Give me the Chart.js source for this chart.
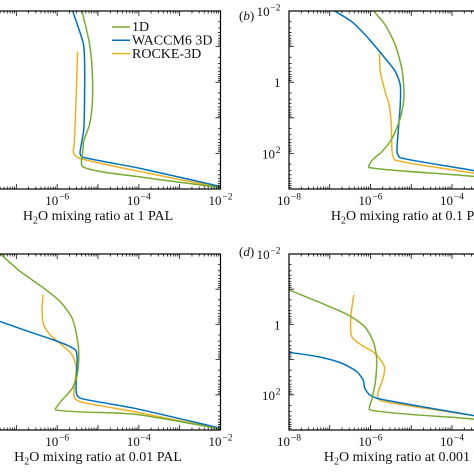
<!DOCTYPE html>
<html><head><meta charset="utf-8">
<script src="https://cdn.jsdelivr.net/npm/chart.js@4/dist/chart.umd.min.js"></script>
<style>
html,body{margin:0;padding:0;background:#fff;}
body{width:474px;height:474px;overflow:hidden;position:relative;}
canvas{position:absolute;}
</style></head><body>
<canvas id="ca" width="297" height="237" style="left:-60px;top:0px"></canvas>
<canvas id="cb" width="320" height="237" style="left:237px;top:0px"></canvas>
<canvas id="cc" width="297" height="237" style="left:-60px;top:237px"></canvas>
<canvas id="cd" width="320" height="237" style="left:237px;top:237px"></canvas>
<script>
// ---------- labels ----------
const seriesNames = ['1D', 'WACCM6 3D', 'ROCKE-3D'];
const seriesColors = ['#77AC30', '#0072BD', '#EDB120'];
const panelPAL = ['1', '0.1', '0.01', '0.001'];
const panelLetters = ['(a)', '(b)', '(c)', '(d)'];
const xTickExps = ['−8', '−6', '−4', '−2'];
const xTickVals = [1e-8, 1e-6, 1e-4, 1e-2];
const yTickVals = [0.01, 1, 100];
const yTickBase = ['10', '1', '10'];
const yTickExp = ['−2', '', '2'];

// ---------- panel (a): 1 PAL ----------
const pA_1D = [0.01, 0.0813, 0.5, 3.98, 15.8, 41.7, 79.4, 240, 457, 912];
const xA_1D = [4.07e-6, 6.17e-6, 7.24e-6, 7.24e-6, 6.17e-6, 4.57e-6, 4.27e-6, 4.27e-6, 1.07e-4, 1e-2];
const pA_WACCM = [0.01, 0.0813, 0.24, 3.16, 21.9, 97.7, 126, 263, 851];
const xA_WACCM = [2.4e-6, 4.37e-6, 4.68e-6, 4.68e-6, 4.47e-6, 3.63e-6, 4.07e-6, 1.07e-4, 1e-2];
const pA_ROCKE = [0.138, 2.0, 51.3, 97.7, 138, 324, 912];
const xA_ROCKE = [3.16e-6, 2.95e-6, 2.63e-6, 2.51e-6, 3.55e-6, 1.07e-4, 1e-2];

// ---------- panel (b): 0.1 PAL ----------
const pB_1D = [0.01, 0.0245, 0.0912, 0.5, 2.82, 10.2, 38, 89, 155, 251, 447, 851];
const xB_1D = [1.2e-6, 2.29e-6, 4.07e-6, 6.03e-6, 6.61e-6, 5.37e-6, 3.39e-6, 1.91e-6, 1.1e-6, 9.33e-7, 3.63e-4, 1e-2];
const pB_WACCM = [0.01, 0.02, 0.059, 0.214, 0.5, 1.2, 4.4, 24.5, 89, 132, 309, 759];
const xB_WACCM = [1.32e-7, 3.47e-7, 8.91e-7, 2.29e-6, 4.07e-6, 5.37e-6, 5.37e-6, 4.79e-6, 4.47e-6, 5.37e-6, 3.63e-4, 1e-2];
const pB_ROCKE = [0.155, 0.5, 1.86, 4.4, 15.8, 89, 155, 363, 851];
const xB_ROCKE = [1.66e-6, 1.74e-6, 2.29e-6, 2.88e-6, 3.24e-6, 3.39e-6, 4.07e-6, 3.63e-4, 1e-2];

// ---------- panel (c): 0.01 PAL ----------
const pC_1D = [0.01, 0.0316, 0.0933, 0.229, 0.676, 2.45, 7.41, 27.5, 66, 141, 269, 355, 933];
const xC_1D = [4.07e-8, 1.26e-7, 4.68e-7, 1.2e-6, 2.34e-6, 3.09e-6, 3.39e-6, 3.09e-6, 2.34e-6, 1.32e-6, 9.33e-7, 7.59e-5, 1e-2];
const pC_WACCM = [0.468, 0.832, 1.78, 2.75, 3.89, 5.37, 9.12, 33.9, 91.2, 126, 240, 891];
const xC_WACCM = [1e-8, 4.07e-8, 2.63e-7, 8.13e-7, 1.74e-6, 2.82e-6, 3.09e-6, 2.95e-6, 2.95e-6, 3.72e-6, 7.59e-5, 1e-2];
const pC_ROCKE = [0.145, 0.437, 1.05, 2.0, 3.89, 7.41, 17.8, 52.5, 120, 158, 302, 933];
const xC_ROCKE = [4.47e-7, 4.27e-7, 4.68e-7, 6.76e-7, 1.32e-6, 2.34e-6, 2.95e-6, 2.63e-6, 2.63e-6, 3.72e-6, 7.59e-5, 1e-2];

// ---------- panel (d): 0.001 PAL ----------
const pD_1D = [0.105, 0.229, 0.537, 1.17, 3.09, 9.12, 42.7, 126, 269, 490, 891];
const xD_1D = [1e-8, 5.25e-8, 2.82e-7, 7.24e-7, 1.17e-6, 1.41e-6, 1.32e-6, 1.1e-6, 9.77e-7, 3.39e-4, 1e-2];
const pD_WACCM = [6.17, 8.32, 12.6, 21.9, 38, 66, 102, 132, 389, 708];
const xD_WACCM = [1e-8, 5.25e-8, 1.95e-7, 4.57e-7, 6.61e-7, 7.24e-7, 9.77e-7, 1.7e-6, 3.39e-4, 1e-2];
const pD_ROCKE = [0.145, 0.347, 0.832, 2.24, 3.89, 6.61, 15.8, 33.9, 81.3, 132, 158, 389, 708];
const xD_ROCKE = [3.89e-7, 3.47e-7, 3.24e-7, 3.47e-7, 6.03e-7, 1.29e-6, 2.19e-6, 2.04e-6, 1.55e-6, 1.55e-6, 2.24e-6, 3.39e-4, 1e-2];

const SERIF = '"Liberation Serif","DejaVu Serif",serif';

function pts(xs, ps) { return xs.map((v, i) => ({ x: v, y: ps[i] })); }

function drawPow(ctx, base, exp, x, y, align) {
  ctx.font = '13px ' + SERIF;
  const wb = ctx.measureText(base).width;
  ctx.font = '9.5px ' + SERIF;
  const we = exp ? ctx.measureText(exp).width + 0.8 : 0;
  const total = wb + we;
  const x0 = align === 'center' ? x - total / 2 : (align === 'right' ? x - total : x);
  ctx.textAlign = 'left';
  ctx.textBaseline = 'alphabetic';
  ctx.font = '13px ' + SERIF;
  ctx.fillText(base, x0, y);
  if (exp) {
    ctx.font = '9.5px ' + SERIF;
    ctx.fillText(exp, x0 + wb + 0.8, y - 5.5);
  }
}

const axesPlugin = {
  id: 'axesDeco',
  afterDatasetsDraw(chart, args, o) {
    const ctx = chart.ctx, a = chart.chartArea, xs = chart.scales.x, ys = chart.scales.y;
    ctx.save();
    ctx.strokeStyle = '#111';
    ctx.lineWidth = 0.8;
    ctx.beginPath();
    // x ticks (inward, top and bottom)
    for (let e = -8; e <= -2; e++) {
      for (let m = 1; m <= 9; m++) {
        const v = m * Math.pow(10, e);
        if (v > 1.0001e-2) break;
        const px = xs.getPixelForValue(v);
        const len = m === 1 ? 5 : 2.5;
        ctx.moveTo(px, a.bottom); ctx.lineTo(px, a.bottom - len);
        ctx.moveTo(px, a.top); ctx.lineTo(px, a.top + len);
      }
    }
    // y ticks (inward, left and right)
    for (let e = -2; e <= 3; e++) {
      for (let m = 1; m <= 9; m++) {
        const v = m * Math.pow(10, e);
        if (v > 1.0001e3) break;
        const py = ys.getPixelForValue(v);
        const len = m === 1 ? 5 : 2.5;
        ctx.moveTo(a.left, py); ctx.lineTo(a.left + len, py);
        ctx.moveTo(a.right, py); ctx.lineTo(a.right - len, py);
      }
    }
    ctx.stroke();
    // frame
    ctx.lineWidth = 1.2;
    ctx.strokeStyle = '#000';
    ctx.strokeRect(a.left, a.top, a.right - a.left, a.bottom - a.top);

    ctx.fillStyle = '#111';
    // x tick labels
    xTickVals.forEach((v, i) => {
      drawPow(ctx, '10', xTickExps[i], xs.getPixelForValue(v), a.bottom + 16, 'center');
    });
    // y tick labels
    yTickVals.forEach((v, i) => {
      drawPow(ctx, yTickBase[i], yTickExp[i], a.left - 8.5, ys.getPixelForValue(v) + 5, 'right');
    });
    // x title with subscript
    const cx = (a.left + a.right) / 2, by = a.bottom + 31;
    ctx.font = '14px ' + SERIF;
    const t1 = 'H', t3 = 'O mixing ratio at ' + o.pal + ' PAL';
    const w1 = ctx.measureText(t1).width, w3 = ctx.measureText(t3).width;
    ctx.font = '10px ' + SERIF;
    const w2 = ctx.measureText('2').width;
    let x0 = cx - (w1 + w2 + w3) / 2;
    ctx.textAlign = 'left'; ctx.textBaseline = 'alphabetic';
    ctx.font = '14px ' + SERIF; ctx.fillText(t1, x0, by);
    ctx.font = '10px ' + SERIF; ctx.fillText('2', x0 + w1, by + 3.5);
    ctx.font = '14px ' + SERIF; ctx.fillText(t3, x0 + w1 + w2, by);
    // panel letter
    if (o.letter) {
      const lx = a.left - 50, ly = o.letterY;
      ctx.font = '13px ' + SERIF;
      ctx.fillText('(', lx, ly);
      const wp = ctx.measureText('(').width;
      ctx.font = 'italic 13px ' + SERIF;
      ctx.fillText(o.letter.slice(1, 2), lx + wp, ly);
      const wl = ctx.measureText(o.letter.slice(1, 2)).width;
      ctx.font = '13px ' + SERIF;
      ctx.fillText(')', lx + wp + wl, ly);
    }
    // legend
    if (o.legend) {
      const lx0 = a.right - 108.5, ly0 = a.top + 16, dy = 13.3;
      chart.data.datasets.forEach((ds, i) => {
        const yy = ly0 + i * dy;
        ctx.strokeStyle = ds.borderColor;
        ctx.lineWidth = 1.5;
        ctx.beginPath(); ctx.moveTo(lx0, yy); ctx.lineTo(lx0 + 18, yy); ctx.stroke();
        ctx.fillStyle = '#111';
        ctx.font = '14px ' + SERIF;
        ctx.textBaseline = 'middle';
        ctx.fillText(ds.label, lx0 + 20, yy + 0.5);
      });
    }
    ctx.restore();
  }
};

function makePanel(id, pad, series, pal, letter, letterY, legend) {
  const datasets = series.map((s, i) => ({
    label: seriesNames[i],
    data: pts(s[0], s[1]),
    borderColor: seriesColors[i],
    backgroundColor: seriesColors[i],
    borderWidth: 1.5,
    showLine: true,
    pointRadius: 0,
    tension: 0.25,
    fill: false
  }));
  new Chart(document.getElementById(id), {
    type: 'scatter',
    data: { datasets },
    options: {
      responsive: false,
      animation: false,
      devicePixelRatio: 2,
      layout: { padding: pad },
      scales: {
        x: { type: 'logarithmic', min: 1e-8, max: 1e-2, display: false },
        y: { type: 'logarithmic', min: 1e-2, max: 1e3, reverse: true, display: false }
      },
      plugins: {
        legend: { display: false },
        tooltip: { enabled: false },
        axesDeco: { pal, letter, letterY, legend }
      }
    },
    plugins: [axesPlugin]
  });
}

makePanel('ca', { left: 35.5, right: 16.5, top: 11, bottom: 48 },
  [[xA_1D, pA_1D], [xA_WACCM, pA_WACCM], [xA_ROCKE, pA_ROCKE]], panelPAL[0], null, 0, true);
makePanel('cb', { left: 52, right: 23.5, top: 11, bottom: 48 },
  [[xB_1D, pB_1D], [xB_WACCM, pB_WACCM], [xB_ROCKE, pB_ROCKE]], panelPAL[1], panelLetters[1], 20, false);
makePanel('cc', { left: 35.5, right: 16.5, top: 17, bottom: 44 },
  [[xC_1D, pC_1D], [xC_WACCM, pC_WACCM], [xC_ROCKE, pC_ROCKE]], panelPAL[2], null, 0, false);
makePanel('cd', { left: 52, right: 23.5, top: 17, bottom: 44 },
  [[xD_1D, pD_1D], [xD_WACCM, pD_WACCM], [xD_ROCKE, pD_ROCKE]], panelPAL[3], panelLetters[3], 19, false);
</script>
</body></html>
